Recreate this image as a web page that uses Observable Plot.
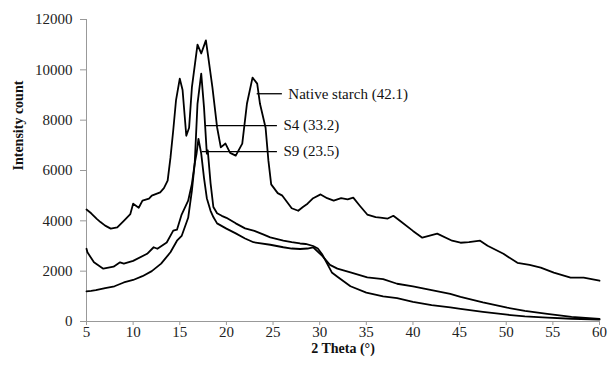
<!DOCTYPE html>
<html><head><meta charset="utf-8">
<script src="https://cdn.jsdelivr.net/npm/d3@7"></script>
<script src="https://cdn.jsdelivr.net/npm/@observablehq/plot@0.6"></script>
<style>body{margin:0;background:#fff}</style>
</head><body><div id="chart"></div>
<script>
// 2 Theta (°), Intensity count
const nativeStarch = [
  [5.0,4450],[5.5,4300],[6.1,4080],[6.5,3950],[7.0,3810],[7.6,3690],[8.3,3740],[9.0,4000],[9.7,4270],
  [10.0,4680],[10.6,4520],[11.0,4800],[11.7,4880],[12.0,5000],[12.9,5130],[13.3,5300],[13.7,5600],
  [14.0,6500],[14.3,7600],[14.6,8800],[15.0,9650],[15.3,9200],[15.7,7380],[16.0,7700],[16.3,9300],
  [16.9,11000],[17.3,10650],[17.8,11170],[18.0,10650],[18.5,9300],[19.0,7720],[19.4,6920],[19.9,7070],
  [20.4,6700],[21.0,6590],[21.7,7070],[22.2,8650],[22.8,9690],[23.3,9450],[23.6,8650],[24.2,7700],
  [24.5,6400],[24.8,5450],[25.5,5100],[26.0,5000],[26.5,4750],[27.0,4500],[27.7,4400],[28.2,4550],
  [28.7,4680],[29.3,4900],[30.1,5050],[30.8,4900],[31.5,4800],[32.3,4900],[33.0,4850],[33.6,4920],
  [34.3,4600],[35.1,4250],[36.0,4150],[36.5,4130],[37.3,4090],[37.9,4200],[38.6,4000],[40.0,3600],
  [41.0,3330],[42.6,3490],[44.2,3210],[45.1,3130],[46.0,3150],[47.2,3210],[48.0,3010],[49.7,2690],
  [51.2,2330],[52.5,2250],[53.7,2140],[55.1,1940],[56.9,1740],[58.3,1740],[60.0,1620]
];
const s4 = [
  [5.0,2890],[5.1,2750],[5.8,2350],[6.8,2100],[7.9,2180],[8.6,2350],[9.0,2300],[10.0,2410],[11.5,2690],
  [12.2,2950],[12.6,2890],[13.6,3140],[14.3,3610],[14.7,3650],[15.2,4250],[15.9,4800],[16.3,5470],
  [16.6,6270],[16.9,8650],[17.3,9850],[17.6,8500],[17.9,6670],[18.0,6800],[18.3,5500],[18.6,4550],
  [19.0,4300],[19.5,4200],[20.0,4120],[21.0,3900],[22.0,3700],[23.0,3600],[24.0,3450],[24.7,3340],
  [26.1,3210],[27.0,3150],[27.9,3100],[28.5,3080],[29.3,3000],[29.8,2900],[30.3,2650],[30.8,2300],
  [31.3,1950],[31.9,1780],[33.3,1400],[35.0,1150],[36.8,1000],[38.3,930],[40.0,780],[42.0,650],
  [44.0,560],[45.1,500],[47.5,380],[50.1,270],[52.0,200],[54.4,150],[57.0,110],[60.0,80]
];
const s9 = [
  [5.0,1200],[5.5,1220],[6.0,1250],[7.0,1330],[8.0,1400],[9.0,1550],[10.0,1650],[11.0,1800],
  [12.0,2000],[13.0,2300],[14.0,2750],[14.7,3210],[15.2,3400],[15.9,4120],[16.3,5200],[16.6,6270],
  [16.8,6670],[17.0,7260],[17.3,6670],[17.6,5700],[17.9,4900],[18.3,4400],[18.6,4150],[19.0,3900],
  [20.0,3690],[21.0,3500],[22.0,3300],[22.9,3150],[24.7,3050],[26.1,2950],[27.0,2900],[27.9,2880],
  [28.7,2900],[29.3,2950],[30.3,2600],[31.1,2250],[31.9,2100],[33.3,1950],[35.1,1750],[36.8,1680],
  [38.3,1500],[40.0,1400],[42.0,1250],[44.0,1100],[45.1,980],[47.5,760],[50.1,550],[52.0,420],
  [54.4,300],[57.0,180],[60.0,100]
];
const seriesNames = ["Native starch (42.1)", "S4 (33.2)", "S9 (23.5)"];
const xTicks = [5,10,15,20,25,30,35,40,45,50,55,60];
const yTicks = [0,2000,4000,6000,8000,10000,12000];
// leader-line annotations: [label, y, x1, x2]
const annotations = [
  ["Native starch (42.1)", 9050, 23.3, 26.0],
  ["S4 (33.2)", 7785, 17.75, 25.47],
  ["S9 (23.5)", 6750, 17.4, 25.47]
];

const rows = [nativeStarch, s4, s9].flatMap((arr, i) =>
  arr.map(([x, y]) => ({series: seriesNames[i], x, y})));
const ann = annotations.map(([label, y, x1, x2]) => ({label, y, x1, x2}));

const chart = Plot.plot({
  width: 608, height: 372,
  marginLeft: 86, marginRight: 9, marginTop: 19, marginBottom: 51,
  style: {fontFamily: "'Liberation Serif', 'Times New Roman', serif", fontSize: "15px", background: "#fff", color: "#222"},
  x: {domain: [5, 60]},
  y: {domain: [0, 12000]},
  marks: [
    Plot.axisY({ticks: yTicks, tickSize: 6, tickPadding: 8, stroke: "#999", fill: "#222", fontSize: 15, label: null, tickFormat: d => String(d)}),
    Plot.axisX({ticks: xTicks, tickSize: 4, tickPadding: 1, stroke: "#999", fill: "#222", fontSize: 15, label: null}),
    Plot.ruleY([0], {stroke: "#999"}),
    Plot.ruleX([5], {stroke: "#999"}),
    Plot.line(rows, {x: "x", y: "y", z: "series", stroke: "#000", strokeWidth: 1.8, strokeLinejoin: "round"}),
    Plot.ruleY(ann, {y: "y", x1: "x1", x2: "x2", stroke: "#000", strokeWidth: 1.3}),
    Plot.text(ann, {x: "x2", y: "y", text: "label", textAnchor: "start", dx: 6, fontSize: 15, fill: "#111"}),
    Plot.text(["Intensity count"], {text: d => d, frameAnchor: "left", dx: -68, rotate: -90, fontWeight: "bold", fontSize: 14, fill: "#111"}),
    Plot.text(["2 Theta (°)"], {text: d => d, frameAnchor: "bottom", dy: 31, fontWeight: "bold", fontSize: 14, fill: "#111"})
  ]
});
document.getElementById("chart").appendChild(chart);
</script>
</body></html>
